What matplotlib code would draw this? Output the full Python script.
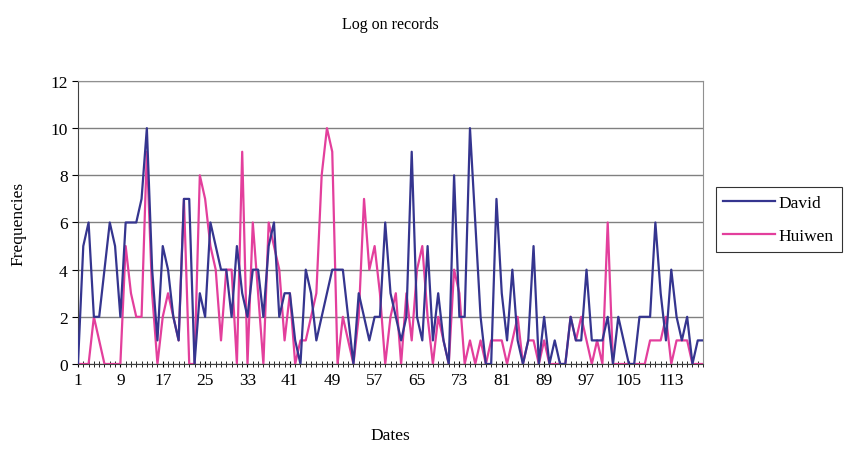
import matplotlib.pyplot as plt
import numpy as np

plt.rcParams['font.family'] = ['Liberation Serif', 'DejaVu Serif']

# daily counts
dates = np.arange(1, 120)
david = [0, 5, 6, 2, 2, 4, 6, 5, 2, 6, 6, 6, 7, 10, 4, 1, 5, 4, 2, 1,
         7, 7, 0, 3, 2, 6, 5, 4, 4, 2, 5, 3, 2, 4, 4, 2, 5, 6, 2, 3,
         3, 1, 0, 4, 3, 1, 2, 3, 4, 4, 4, 2, 0, 3, 2, 1, 2, 2, 6, 3,
         2, 1, 2, 9, 2, 1, 5, 1, 3, 1, 0, 8, 2, 2, 10, 6, 2, 0, 0, 7,
         3, 1, 4, 1, 0, 1, 5, 0, 2, 0, 1, 0, 0, 2, 1, 1, 4, 1, 1, 1,
         2, 0, 2, 1, 0, 0, 2, 2, 2, 6, 3, 1, 4, 2, 1, 2, 0, 1, 1]
huiwen = [0, 0, 0, 2, 1, 0, 0, 0, 0, 5, 3, 2, 2, 9, 3, 0, 2, 3, 2, 1,
          7, 0, 0, 8, 7, 5, 4, 1, 4, 4, 0, 9, 0, 6, 3, 0, 6, 5, 4, 1,
          3, 0, 1, 1, 2, 3, 8, 10, 9, 0, 2, 1, 0, 2, 7, 4, 5, 3, 0, 2,
          3, 0, 3, 1, 4, 5, 2, 0, 2, 1, 0, 4, 3, 0, 1, 0, 1, 0, 1, 1,
          1, 0, 1, 2, 0, 1, 1, 0, 1, 0, 0, 0, 0, 2, 1, 2, 1, 0, 1, 0,
          6, 0, 0, 0, 0, 0, 0, 0, 1, 1, 1, 2, 0, 1, 1, 1, 0, 0, 0]
tick_dates = list(range(1, 120, 8))

fig = plt.figure(figsize=(8.44, 4.52), dpi=100)
ax = fig.add_axes([0.0924, 0.1925, 0.7406, 0.6261])

ax.plot(dates, david, color='#35358f', linewidth=1.6, label='David', zorder=3)
ax.plot(dates, huiwen, color='#e33f9c', linewidth=1.6, label='Huiwen', zorder=2)

ax.set_xlim(1, 119)
ax.set_ylim(0, 12)
ax.set_yticks(range(0, 13, 2))
ax.set_xticks(tick_dates)
ax.set_xticks(dates, minor=True)
ax.yaxis.grid(True, color='#808080', linewidth=1)
ax.set_axisbelow(True)
for s in ax.spines.values():
    s.set_color('#909090')
ax.spines['left'].set_color('#404040')
ax.spines['bottom'].set_color('#404040')
ax.tick_params(axis='both', labelsize=12.5, colors='black', length=4, width=0.8)
ax.tick_params(axis='x', which='minor', length=4, width=0.6, direction='inout')
ax.tick_params(axis='x', which='major', length=4, direction='inout', pad=4)

ax.set_title('Log on records', fontsize=11.5, pad=38)
ax.set_xlabel('Dates', fontsize=12.5, labelpad=28)
ax.set_ylabel('Frequencies', fontsize=12.5, labelpad=17)

leg = ax.legend(loc='center left', bbox_to_anchor=(1.02, 0.51), fontsize=12.5,
                frameon=True, fancybox=False, edgecolor='black',
                handlelength=3.0, borderpad=0.45, labelspacing=0.95, handletextpad=0.2,
                borderaxespad=0.0)
leg.get_frame().set_linewidth(0.8)

fig.savefig('out.png', dpi=100)
